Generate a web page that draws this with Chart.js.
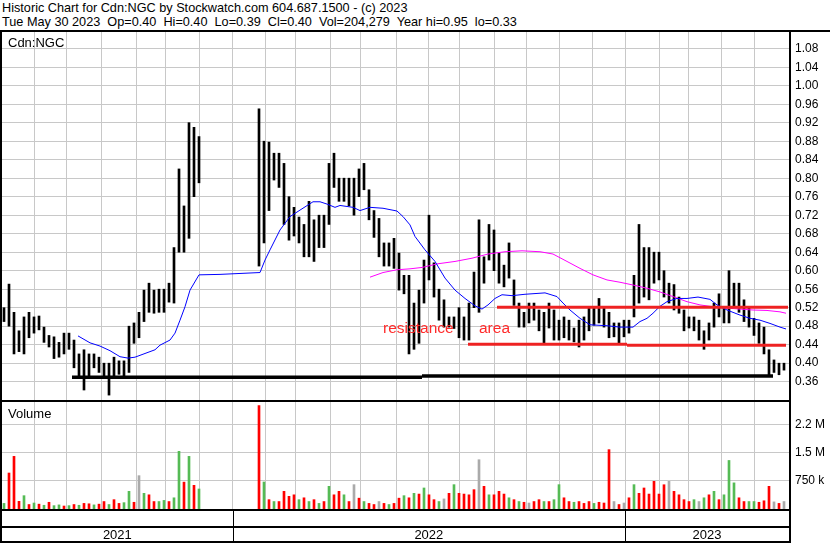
<!DOCTYPE html>
<html><head><meta charset="utf-8">
<script src="https://cdn.jsdelivr.net/npm/chart.js@4"></script>
<style>
html,body{margin:0;padding:0;background:#fff;}
#wrap{position:relative;width:830px;height:543px;overflow:hidden;font-family:"Liberation Sans",Arial,sans-serif;}
.t{position:absolute;left:2px;font-size:12.7px;line-height:13px;white-space:pre;color:#000;}
.bl{position:absolute;background:#000;}
canvas{position:absolute;left:0;}
</style></head><body>
<div id="wrap">
<div class="t" style="top:2px">Historic Chart for Cdn:NGC by Stockwatch.com 604.687.1500 - (c) 2023</div>
<div class="t" style="top:16px">Tue May 30 2023  Op=0.40  Hi=0.40  Lo=0.39  Cl=0.40  Vol=204,279  Year hi=0.95  lo=0.33</div>
<canvas id="pc" width="830" height="368" style="top:32px"></canvas>
<canvas id="vc" width="830" height="141" style="top:402px"></canvas>
<div class="t" style="top:36px;left:8px;font-size:13px">Cdn:NGC</div>
<div class="t" style="top:407px;left:8px;font-size:13px">Volume</div>
<div class="bl" style="left:0;top:30px;width:830px;height:2px"></div>
<div class="bl" style="left:0;top:30px;width:2px;height:513px"></div>
<div class="bl" style="left:789px;top:30px;width:2px;height:513px"></div>
<div class="bl" style="left:0;top:400px;width:791px;height:2px"></div>
</div>
<script>
// ---- data (x positions in sample slots; each slot ~ 3 trading days) ----
const priceHi = [0.52,0.571,0.51,0.47,0.50,0.51,0.50,0.502,0.478,0.46,
0.457,0.445,0.465,0.465,0.45,0.42,0.429,0.42,0.42,0.413,
0.40,0.40,0.413,0.405,0.405,0.48,0.487,0.51,0.558,0.573,
0.558,0.56,0.56,0.573,0.65,0.82,0.74,0.92,0.91,0.89,
null,null,null,null,null,null,null,null,null,null,null,
0.95,0.88,0.878,0.854,0.854,0.832,0.76,0.737,0.716,
0.70,0.75,0.71,0.72,0.72,0.832,0.854,0.80,0.80,0.80,
0.80,0.82,0.832,0.775,0.73,0.713,0.66,0.66,0.67,0.638,
0.59,0.59,0.53,0.558,0.623,0.72,0.617,0.56,0.537,0.50,
0.50,0.52,0.50,0.53,0.597,0.71,0.63,0.70,0.688,0.638,
0.612,0.66,0.58,0.53,0.51,0.53,0.53,0.515,0.51,0.53,
0.515,0.493,0.50,0.493,0.476,0.493,0.50,0.52,0.52,0.54,
0.52,0.51,0.487,0.487,0.493,0.493,0.59,0.70,0.65,0.65,
0.64,0.64,0.60,0.573,0.57,0.543,0.515,0.50,0.50,0.493,
0.47,0.487,0.53,0.55,0.52,0.60,0.573,0.573,0.537,0.52,
0.497,0.487,0.478,0.429,0.407,0.40,0.40];
const priceLo = [0.49,0.48,0.42,0.425,0.42,0.455,0.465,0.472,0.445,0.435,
0.41,0.413,0.42,0.43,0.39,0.37,0.342,0.37,0.39,0.38,
0.37,0.331,0.37,0.376,0.37,0.38,0.443,0.455,0.49,0.51,
0.508,0.51,0.51,0.532,0.53,0.64,0.64,0.67,0.76,0.79,
null,null,null,null,null,null,null,null,null,null,null,
0.61,0.66,0.73,0.796,0.78,0.70,0.666,0.675,0.66,
0.63,0.63,0.62,0.65,0.65,0.70,0.78,0.75,0.75,0.74,
0.72,0.76,0.775,0.71,0.672,0.63,0.61,0.61,0.605,0.558,
0.55,0.42,0.43,0.443,0.53,0.58,0.543,0.493,0.478,0.478,
0.475,0.455,0.45,0.45,0.52,0.51,0.573,0.623,0.60,0.573,
0.565,0.584,0.525,0.478,0.478,0.487,0.493,0.47,0.443,0.476,
0.45,0.45,0.455,0.45,0.446,0.435,0.45,0.47,0.482,0.487,
0.478,0.455,0.457,0.443,0.457,0.465,0.50,0.53,0.543,0.537,
0.573,0.58,0.543,0.53,0.515,0.508,0.47,0.476,0.47,0.45,
0.43,0.45,0.478,0.50,0.487,0.487,0.52,0.51,0.49,0.478,
0.46,0.443,0.42,0.374,0.38,0.375,0.385];
// volume in thousands of shares, direction: r = down, g = up, n = unchanged
const volume = [150,964,1410,205,357,120,160,130,100,180,
90,110,80,90,120,100,150,140,110,130,
200,120,250,150,170,473,180,893,420,380,
200,200,230,200,300,1545,720,1410,634,536,
null,null,null,null,null,null,null,null,null,null,null,
2770,723,250,200,200,473,340,380,250,
300,200,250,150,200,607,380,473,380,200,
652,290,200,150,120,200,150,120,150,290,
357,300,420,400,563,380,250,200,270,420,
652,420,400,380,518,1320,607,380,380,473,
400,300,250,200,180,160,200,250,200,200,
250,652,300,200,180,200,150,200,150,180,
160,1590,200,120,160,300,652,420,563,400,
741,400,650,741,473,380,250,200,250,200,
300,380,473,250,380,1300,700,300,200,200,
200,180,220,607,190,150,200];
const volDir = ['g','r','r','r','g','r','g','r','g','r',
'g','g','r','g','r','g','r','r','g','r',
'r','g','r','r','g','g','r','n','g','r',
'r','g','g','r','g','g','r','g','r','g',
null,null,null,null,null,null,null,null,null,null,null,
'r','g','r','g','r','r','r','r','g',
'r','g','r','g','r','g','r','r','g','r',
'n','r','g','r','r','n','r','g','r','r',
'g','r','g','r','g','r','r','g','n','r',
'g','r','r','r','r','n','r','g','r','r',
'r','g','r','g','r','n','r','r','g','r',
'g','g','r','r','g','r','r','r','g','r',
'r','r','n','r','n','r','g','r','r','r',
'r','r','r','n','r','r','r','r','g','n',
'g','r','g','r','g','g','g','r','r','g',
'g','r','r','r','n','r','n'];
// moving averages: [slot position, value]
const maShort = [[15.2,0.459],[17.6,0.444],[19.6,0.437],[21.6,0.427],[23.6,0.414],[25.2,0.411],[26.6,0.413],[28.6,0.421],[30.6,0.429],[31.6,0.439],[33.6,0.450],[34.6,0.465],[35.6,0.493],[36.6,0.522],[37.6,0.558],[39.4,0.591],[43.6,0.592],[47.6,0.594],[51.6,0.596],[52.6,0.623],[53.6,0.645],[55.6,0.688],[57.6,0.717],[59.6,0.731],[62.2,0.749],[63.6,0.749],[65.0,0.744],[66.6,0.737],[67.6,0.741],[70.2,0.737],[71.6,0.730],[73.6,0.737],[76.2,0.735],[79.0,0.729],[80.2,0.717],[81.6,0.699],[82.6,0.674],[84.6,0.645],[86.6,0.620],[88.6,0.584],[90.6,0.558],[92.6,0.540],[94.6,0.524],[96.0,0.517],[97.2,0.526],[98.6,0.540],[100.0,0.548],[102.0,0.546],[104.6,0.549],[108.6,0.552],[111.0,0.544],[112.2,0.530],[113.6,0.515],[115.6,0.497],[117.6,0.483],[121.0,0.481],[123.6,0.478],[126.2,0.478],[127.6,0.490],[129.0,0.497],[130.2,0.508],[131.6,0.523],[133.0,0.533],[135.0,0.540],[137.0,0.540],[139.2,0.543],[141.6,0.538],[143.0,0.526],[145.0,0.515],[147.6,0.504],[149.6,0.497],[151.6,0.493],[153.6,0.486],[155.6,0.478],[156.8,0.474]];
const maLong = [[73.6,0.586],[76.2,0.596],[79.0,0.602],[81.6,0.604],[84.0,0.607],[87.2,0.615],[90.6,0.620],[94.0,0.627],[97.2,0.636],[100.6,0.641],[104.0,0.643],[107.6,0.641],[110.2,0.636],[113.0,0.620],[115.6,0.605],[118.2,0.591],[121.0,0.580],[123.6,0.575],[126.2,0.569],[129.0,0.562],[131.6,0.554],[134.2,0.544],[137.0,0.533],[139.6,0.526],[142.2,0.522],[145.0,0.519],[147.6,0.517],[150.2,0.515],[153.0,0.514],[155.6,0.511],[156.8,0.508]];
// hand-drawn levels
const resistanceUpper = [[99.0,0.5209],[157.2,0.5209]];
const resistanceLowerA = [[93.2,0.4409],[125.0,0.4409]];
const resistanceLowerB = [[125.0,0.4387],[156.8,0.4387]];
const supportA = [[14.0,0.3695],[84.0,0.3695]];
const supportB = [[84.0,0.3723],[154.2,0.3723]];
const notes = [['resistance',76.2,0.465],['area',95.4,0.465]];
// axes
const xMax = 157.4;
const monthTicks = [6.46,12.94,19.94,26.94,32.74,39.46,46.14,52.6,58.74,65.74,71.74,78.8,85.4,91.6,98.46,104.94,111.46,118.06,124.6,131.4,137.26,143.94,150.4];
const yearBounds = [0,46.14,124.6,157.4];
const yearLabels = ['2021','2022','2023'];
const priceTicks = [0.36,0.40,0.44,0.48,0.52,0.56,0.60,0.64,0.68,0.72,0.76,0.80,0.84,0.88,0.92,0.96,1.00,1.04,1.08];
const priceMin = 0.3204, priceMax = 1.1161;
const volTicks = [750,1500,2250];
const volTickLabels = ['750 k','1.5 M','2.2 M'];
const volMax = 2866;

// ---- rendering ----
const FONT = '"Liberation Sans", Arial, sans-serif';
const GRID = '#c8c8c8';
const SLOT_POS = 0.4; // position of a bar inside its slot (keeps 2px bars pixel-aligned)
const pts = a => a.map(p => ({x:p[0], y:p[1]}));
const bars = [];
const vbars = [], vcols = [];
const colMap = {r:'#ff0000', g:'#55bb55', n:'#aaaaaa'};
for (let k = 0; k < priceHi.length; k++) {
  if (priceHi[k] != null) bars.push({x:k+SLOT_POS, y:[priceLo[k], priceHi[k]]});
  if (volume[k] != null) { vbars.push({x:k+SLOT_POS, y:volume[k]}); vcols.push(colMap[volDir[k]]); }
}
const noPad = s => { s.paddingTop = 0; s.paddingBottom = 0; s.paddingLeft = 0; s.paddingRight = 0; };
const xScale = () => ({
  type:'linear', min:0, max:xMax, offset:false,
  afterBuildTicks:s => { s.ticks = monthTicks.map(v => ({value:v})); },
  afterFit:s => { s.height = 0; noPad(s); },
  ticks:{display:false},
  grid:{color:GRID, lineWidth:1, drawTicks:false, offset:false},
  border:{display:false}
});
const lineDs = (data, color, width, order) => ({type:'line', data:pts(data), borderColor:color, borderWidth:width, pointRadius:0, tension:0, order:order, fill:false});

const notePlugin = {id:'notes', afterDatasetsDraw(chart){
  const {ctx, scales:{x, y}} = chart;
  ctx.save(); ctx.fillStyle = '#ff2a2a'; ctx.font = '15.5px ' + FONT; ctx.textBaseline = 'alphabetic';
  notes.forEach(n => ctx.fillText(n[0], x.getPixelForValue(n[1]), y.getPixelForValue(n[2])));
  ctx.restore();
}};

new Chart(document.getElementById('pc'), {
  type:'bar',
  data:{datasets:[
    lineDs(resistanceUpper, '#ee2222', 3, 1),
    lineDs(resistanceLowerA, '#ee2222', 3, 1),
    lineDs(resistanceLowerB, '#ee2222', 3, 1),
    lineDs(supportA, '#000000', 3.5, 1),
    lineDs(supportB, '#000000', 3.5, 1),
    lineDs(maShort, '#0000ff', 1, 3),
    lineDs(maLong, '#ff00ff', 1, 3),
    {type:'bar', data:bars, backgroundColor:'#000', barThickness:2, order:10, grouped:false}
  ]},
  options:{
    responsive:false, animation:false, events:[],
    layout:{padding:{left:2, right:0, top:0, bottom:0}},
    plugins:{legend:{display:false}, tooltip:{enabled:false}},
    scales:{
      x:xScale(),
      y:{type:'linear', position:'right', min:priceMin, max:priceMax,
        afterBuildTicks:s => { s.ticks = priceTicks.map(v => ({value:v})); },
        afterFit:s => { s.width = 41; noPad(s); },
        ticks:{callback:v => Number(v).toFixed(2), font:{family:FONT, size:12}, color:'#000', padding:6},
        grid:{color:GRID, lineWidth:1, drawTicks:false}, border:{display:false}}
    }
  },
  plugins:[notePlugin]
});

const bandPlugin = {id:'bands', afterDraw(chart){
  const {ctx, chartArea:a, scales:{x}} = chart;
  ctx.save(); ctx.fillStyle = '#000';
  const right = a.right + 2;
  ctx.fillRect(0, a.bottom, right, 2);
  ctx.fillRect(0, a.bottom + 17, right, 2);
  ctx.fillRect(0, a.bottom + 32, right, 2);
  for (let i = 1; i < yearBounds.length - 1; i++) {
    const px = Math.round(x.getPixelForValue(yearBounds[i]));
    ctx.fillRect(px, a.bottom, 1, 33);
  }
  ctx.font = '13px ' + FONT; ctx.textAlign = 'center'; ctx.textBaseline = 'middle';
  for (let i = 0; i < yearLabels.length; i++) {
    const c = (x.getPixelForValue(yearBounds[i]) + x.getPixelForValue(yearBounds[i+1])) / 2;
    ctx.fillText(yearLabels[i], c, a.bottom + 26);
  }
  ctx.restore();
}};

new Chart(document.getElementById('vc'), {
  type:'bar',
  data:{datasets:[{data:vbars, backgroundColor:vcols, barThickness:2, grouped:false}]},
  options:{
    responsive:false, animation:false, events:[],
    layout:{padding:{left:2, right:0, top:0, bottom:34}},
    plugins:{legend:{display:false}, tooltip:{enabled:false}},
    scales:{
      x:xScale(),
      y:{type:'linear', position:'right', min:0, max:volMax,
        afterBuildTicks:s => { s.ticks = volTicks.map(v => ({value:v})); },
        afterFit:s => { s.width = 41; noPad(s); },
        ticks:{callback:(v, i) => volTickLabels[i], font:{family:FONT, size:12}, color:'#000', padding:6},
        grid:{color:GRID, lineWidth:1, drawTicks:false}, border:{display:false}}
    }
  },
  plugins:[bandPlugin]
});
</script>
</body></html>
